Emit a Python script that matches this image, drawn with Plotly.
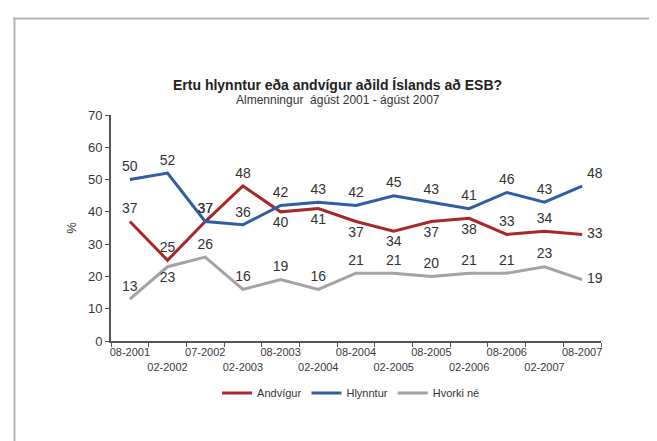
import plotly.graph_objects as go

periods = ["08-2001", "02-2002", "07-2002", "02-2003", "08-2003", "02-2004", "08-2004",
           "02-2005", "08-2005", "02-2006", "08-2006", "02-2007", "08-2007"]
andvigur = [37, 25, 37, 48, 40, 41, 37, 34, 37, 38, 33, 34, 33]
hlynntur = [50, 52, 37, 36, 42, 43, 42, 45, 43, 41, 46, 43, 48]
hvorki = [13, 23, 26, 16, 19, 16, 21, 21, 20, 21, 21, 23, 19]

pos_andvigur = ["top center", "top center", "top center", "top center", "bottom center",
                "bottom center", "bottom center", "bottom center", "bottom center",
                "bottom center", "top center", "top center", "middle right"]
pos_hlynntur = ["top center"] * 12 + ["top right"]
pos_hvorki = ["top center", "bottom center"] + ["top center"] * 10 + ["middle right"]

ticktext = [p if i % 2 == 0 else "<br>" + p for i, p in enumerate(periods)]

lab_font = dict(family="Liberation Sans, Arial, sans-serif", size=14, color="#333333")

fig = go.Figure()
series = [
    ("Andvígur", andvigur, "#a8282a", pos_andvigur),
    ("Hlynntur", hlynntur, "#2f5da6", pos_hlynntur),
    ("Hvorki né", hvorki, "#a3a3a3", pos_hvorki),
]
for name, vals, col, pos in series:
    fig.add_trace(go.Scatter(
        x=periods, y=vals, name=name, mode="lines+markers+text",
        line=dict(color=col, width=3),
        marker=dict(size=6, color="rgba(0,0,0,0)"),
        text=[str(v) for v in vals], textposition=pos, textfont=lab_font,
        cliponaxis=False,
    ))

fig.update_layout(
    width=657, height=441,
    margin=dict(l=103, r=64, t=107, b=108),
    paper_bgcolor="white", plot_bgcolor="white",
    font=dict(family="Liberation Sans, Arial, sans-serif", color="#333333"),
    showlegend=True,
    legend=dict(orientation="h", x=0.49, y=-0.23, xanchor="center", yanchor="middle",
                font=dict(size=11, color="#333333"), itemwidth=30, bgcolor="rgba(0,0,0,0)"),
    annotations=[
        dict(text="<b>Ertu hlynntur eða andvígur aðild Íslands að ESB?</b>",
             xref="paper", yref="paper", x=0.463, y=1.133, showarrow=False,
             font=dict(size=14, color="#222222"), xanchor="center", yanchor="middle"),
        dict(text="Almenningur  ágúst 2001 - ágúst 2007",
             xref="paper", yref="paper", x=0.463, y=1.066, showarrow=False,
             font=dict(size=12, color="#333333"), xanchor="center", yanchor="middle"),
    ],
    shapes=[
        dict(type="line", xref="paper", yref="paper", x0=-0.2, x1=1.135, y0=1.427, y1=1.427,
             line=dict(color="#b5b5b5", width=2)),
        dict(type="line", xref="paper", yref="paper", x0=-0.197, x1=-0.197, y0=1.43, y1=-0.48,
             line=dict(color="#b5b5b5", width=2)),
    ],
)

fig.update_xaxes(
    type="category", range=[-0.5, 12.5],
    tickmode="array", tickvals=periods, ticktext=ticktext,
    tickson="boundaries", ticks="outside", ticklen=4, tickcolor="#555555", tickwidth=1,
    showline=True, linecolor="#555555", linewidth=2, showgrid=False, zeroline=False,
    tickfont=dict(size=11, color="#3a3a3a", family="Liberation Sans, Arial, sans-serif"),
    tickangle=0,
)
fig.update_yaxes(
    range=[0, 70], dtick=10, ticks="outside", ticklen=4, tickcolor="#555555",
    showline=True, linecolor="#555555", linewidth=2, showgrid=False, zeroline=False,
    tickfont=dict(size=13, color="#3a3a3a"),
    title=dict(text="%", font=dict(size=13, color="#3a3a3a"), standoff=8),
)

fig.write_html("out.html")
